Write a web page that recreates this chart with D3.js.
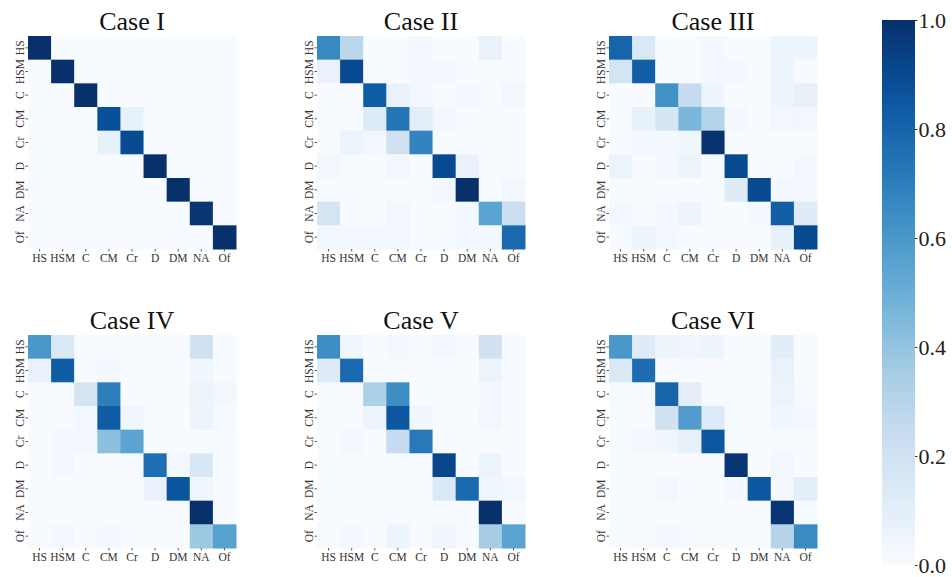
<!DOCTYPE html>
<html><head><meta charset="utf-8">
<script src="https://cdn.jsdelivr.net/npm/d3@7"></script>
<style>body{margin:0;background:#fff}svg{display:block}</style>
</head><body>
<svg id="c" width="952" height="577"></svg>
<script>
const labels = ["HS","HSM","C","CM","Cr","D","DM","NA","Of"];
const titles = ["Case I","Case II","Case III","Case IV","Case V","Case VI"];
const cbTicks = [0,0.2,0.4,0.6,0.8,1.0];

const caseI = [
 [1,0,0,0,0,0,0,0,0],
 [0,1,0,0,0,0,0,0,0],
 [0,0,1,0,0,0,0,0,0],
 [0,0,0,0.88,0.08,0,0,0,0],
 [0,0,0,0.08,0.9,0,0,0,0],
 [0,0,0,0,0,1,0,0,0],
 [0,0,0,0,0,0,1,0,0],
 [0,0,0,0,0,0,0,0.98,0],
 [0,0,0,0,0,0,0,0,1]
];
const caseII = [
 [0.66,0.28,0,0,0.02,0,0,0.07,0],
 [0.07,0.9,0,0,0.02,0.02,0,0,0],
 [0,0,0.83,0.07,0.03,0,0.02,0,0.03],
 [0,0,0.13,0.74,0.1,0.03,0,0,0],
 [0,0.06,0.03,0.2,0.68,0,0,0,0],
 [0.03,0,0,0.03,0,0.9,0.07,0,0],
 [0,0,0,0,0,0.03,1,0,0.03],
 [0.18,0,0,0.03,0,0,0.02,0.55,0.22],
 [0.03,0.03,0.03,0.03,0,0,0.02,0.02,0.78]
];
const caseIII = [
 [0.8,0.15,0,0,0.02,0,0,0.05,0.05],
 [0.18,0.82,0,0,0.02,0.02,0,0.05,0],
 [0,0,0.63,0.25,0.05,0,0,0.05,0.08],
 [0,0.08,0.17,0.46,0.3,0.02,0,0.03,0.03],
 [0,0.02,0.02,0.04,0.99,0,0,0,0],
 [0.06,0,0.02,0.05,0,0.9,0,0,0.02],
 [0,0,0,0,0,0.12,0.9,0.02,0.02],
 [0.02,0,0.02,0.05,0,0,0.02,0.82,0.12],
 [0,0.05,0.02,0,0,0,0,0.08,0.9]
];
const caseIV = [
 [0.6,0.15,0,0,0,0,0,0.2,0],
 [0.07,0.83,0,0.02,0,0,0,0.04,0],
 [0,0,0.18,0.7,0,0,0,0.06,0.03],
 [0,0,0.02,0.83,0.04,0,0,0.05,0.01],
 [0,0.02,0.02,0.42,0.55,0,0,0,0],
 [0,0.02,0,0,0,0.76,0.03,0.16,0],
 [0,0,0,0,0,0.07,0.86,0.04,0],
 [0,0,0,0.01,0,0,0,1,0],
 [0,0.02,0,0.02,0,0,0,0.38,0.56]
];
const caseV = [
 [0.64,0.04,0,0.02,0.01,0.03,0,0.2,0],
 [0.13,0.78,0,0,0,0,0,0.06,0],
 [0,0,0.33,0.64,0,0,0,0.02,0],
 [0.01,0,0.05,0.85,0.04,0,0,0.03,0],
 [0,0.02,0,0.25,0.72,0,0,0,0],
 [0,0,0,0.01,0,0.92,0,0.05,0],
 [0,0,0,0,0,0.14,0.78,0.04,0.03],
 [0,0,0,0,0,0.01,0,1,0],
 [0,0.02,0,0.05,0,0.04,0,0.35,0.55]
];
const caseVI = [
 [0.6,0.12,0.05,0.04,0.05,0,0,0.11,0],
 [0.14,0.77,0,0,0,0,0,0.07,0],
 [0.01,0.01,0.8,0.1,0,0.01,0,0.06,0.01],
 [0,0,0.2,0.58,0.13,0.01,0,0.04,0.02],
 [0,0.02,0.04,0.08,0.85,0,0,0.01,0],
 [0,0,0,0,0,0.98,0,0.03,0],
 [0,0,0.03,0,0,0.02,0.85,0.02,0.1],
 [0,0,0.01,0,0,0,0,0.98,0.01],
 [0,0.01,0.02,0.01,0.01,0,0,0.3,0.65]
];
const matrices = [caseI, caseII, caseIII, caseIV, caseV, caseVI];

const blues = ["#f7fbff","#deebf7","#c6dbef","#9ecae1","#6baed6","#4292c6","#2171b5","#08519c","#08306b"];
const color = d3.scaleLinear().domain(d3.range(9).map(i => i/8)).range(blues).clamp(true);

const svg = d3.select("#c");
const serif = "Liberation Serif, DejaVu Serif, serif";
const lefts = [28, 317, 609];
const tops = [36, 335];
const W = 208, H = 213;

matrices.forEach((m, k) => {
  const x0 = lefts[k % 3], y0 = tops[Math.floor(k / 3)];
  const x = d3.scaleBand().domain(labels).range([0, W]);
  const y = d3.scaleBand().domain(labels).range([0, H]);
  const g = svg.append("g").attr("transform", `translate(${x0},${y0})`);
  const cells = [];
  m.forEach((row, i) => row.forEach((v, j) => cells.push({r: labels[i], c: labels[j], v})));
  g.selectAll("rect").data(cells).join("rect")
    .attr("x", d => x(d.c)).attr("y", d => y(d.r))
    .attr("width", x.bandwidth() + 0.5).attr("height", y.bandwidth() + 0.5)
    .attr("fill", d => color(d.v));
  const ax = g.append("g").attr("transform", `translate(0,${H})`)
    .call(d3.axisBottom(x).tickSize(2.5).tickPadding(2));
  ax.attr("font-family", null);
  ax.select(".domain").remove();
  ax.selectAll("line").attr("stroke", "#333").attr("stroke-width", 0.8);
  ax.selectAll("text").style("font-family", serif).style("font-size", "11.5px").attr("fill", "#333");
  const ay = g.append("g").call(d3.axisLeft(y).tickSize(2.5).tickPadding(2));
  ay.attr("font-family", null);
  ay.select(".domain").remove();
  ay.selectAll("line").attr("stroke", "#333").attr("stroke-width", 0.8);
  ay.selectAll("text").style("font-family", serif).style("font-size", "11.5px").attr("fill", "#333")
    .attr("text-anchor", "middle").attr("dy", null).attr("x", null)
    .attr("transform", "translate(-8.5,0) rotate(-90)").attr("dominant-baseline", "central");
  g.append("text").attr("x", W / 2).attr("y", -6)
    .attr("text-anchor", "middle").style("font-family", serif).style("font-size", "26px")
    .attr("fill", "#111").text(titles[k]);
});

// colorbar
const cbX = 882, cbW = 33, cbTop = 20, cbBot = 565;
const cy = d3.scaleLinear().domain([0, 1]).range([cbBot, cbTop]);
const defs = svg.append("defs");
const grad = defs.append("linearGradient").attr("id", "cbg")
  .attr("x1", 0).attr("y1", 1).attr("x2", 0).attr("y2", 0);
d3.range(0, 1.0001, 0.05).forEach(t => grad.append("stop").attr("offset", t).attr("stop-color", color(t)));
svg.append("rect").attr("x", cbX).attr("y", cbTop).attr("width", cbW).attr("height", cbBot - cbTop)
  .attr("fill", "url(#cbg)");
const cax = svg.append("g").attr("transform", `translate(${cbX + cbW},0)`)
  .call(d3.axisRight(cy).tickValues(cbTicks).tickFormat(d3.format(".1f")).tickSize(2.5).tickPadding(1));
cax.attr("font-family", null);
cax.select(".domain").remove();
cax.selectAll("line").attr("stroke", "#333");
cax.selectAll("text").style("font-family", serif).style("font-size", "22px").attr("fill", "#222");
</script>
</body></html>
